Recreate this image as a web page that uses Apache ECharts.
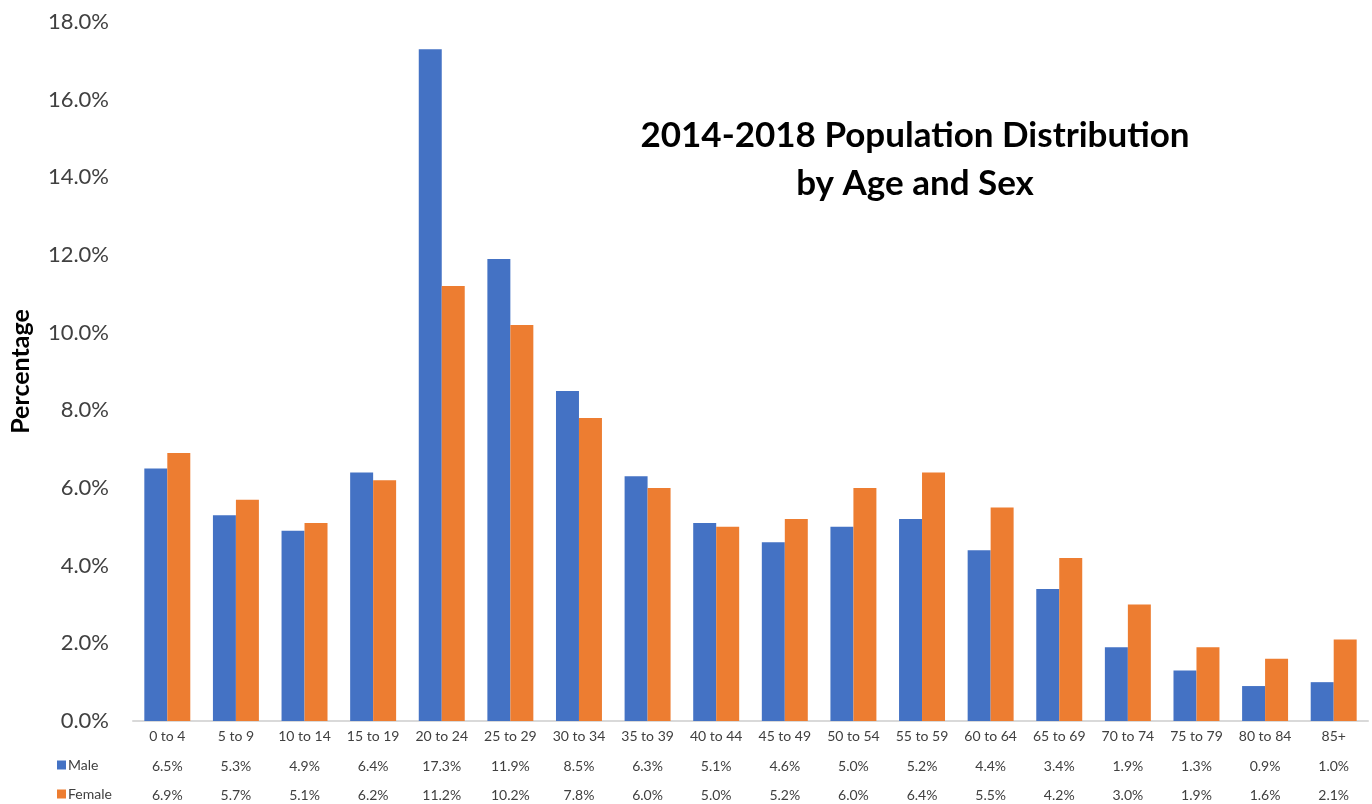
<!DOCTYPE html>
<html>
<head>
<meta charset="utf-8">
<script src="https://cdn.jsdelivr.net/npm/echarts@6/dist/echarts.min.js"></script>
<style>
  html, body { margin: 0; padding: 0; background: #fff; }
  #chart { width: 1372px; height: 804px; }
</style>
</head>
<body>
<div id="chart"></div>
<script>
var ageGroups = ["0 to 4", "5 to 9", "10 to 14", "15 to 19", "20 to 24", "25 to 29",
  "30 to 34", "35 to 39", "40 to 44", "45 to 49", "50 to 54", "55 to 59",
  "60 to 64", "65 to 69", "70 to 74", "75 to 79", "80 to 84", "85+"];
var male = [6.5, 5.3, 4.9, 6.4, 17.3, 11.9, 8.5, 6.3, 5.1, 4.6, 5.0, 5.2, 4.4, 3.4, 1.9, 1.3, 0.9, 1.0];
var female = [6.9, 5.7, 5.1, 6.2, 11.2, 10.2, 7.8, 6.0, 5.0, 5.2, 6.0, 6.4, 5.5, 4.2, 3.0, 1.9, 1.6, 2.1];

var font = "Lato";
var textColor = "#404040";

function tableAxis(values, offset) {
  return {
    type: "category",
    data: ageGroups,
    position: "bottom",
    offset: offset,
    axisLine: { show: false },
    axisTick: { show: false },
    axisLabel: {
      interval: 0,
      margin: 8,
      fontFamily: font,
      fontSize: 14,
      color: textColor,
      formatter: function (v, i) {
        return values[i].toFixed(1) + "%";
      }
    }
  };
}

function tableLegend(name, top) {
  return {
    orient: "horizontal",
    left: 57,
    top: top,
    padding: 0,
    itemWidth: 9,
    itemHeight: 9,
    icon: "rect",
    textStyle: { fontFamily: font, fontSize: 14, color: textColor, padding: [0, 0, 0, -3] },
    data: [name]
  };
}

var chart = echarts.init(document.getElementById("chart"));
chart.setOption({
  animation: false,
  title: {
    text: "2014-2018 Population Distribution\nby Age and Sex",
    left: 910,
    top: 107,
    textAlign: "center",
    textStyle: {
      fontFamily: font,
      fontSize: 35,
      fontWeight: "bold",
      color: "#000",
      lineHeight: 48
    }
  },
  legend: [tableLegend("Male", 758), tableLegend("Female", 787)],
  grid: { left: 128, right: 4, top: 22, bottom: 83, containLabel: false },
  xAxis: [
    {
      type: "category",
      data: ageGroups,
      axisLine: { lineStyle: { color: "#d9d9d9", width: 2 } },
      axisTick: { show: false },
      axisLabel: { interval: 0, margin: 8, fontFamily: font, fontSize: 14, color: textColor }
    },
    tableAxis(male, 30),
    tableAxis(female, 59)
  ],
  yAxis: {
    type: "value",
    min: 0,
    max: 18,
    interval: 2,
    name: "Percentage",
    nameLocation: "middle",
    nameGap: 100,
    nameTextStyle: { fontFamily: font, fontSize: 25, fontWeight: "bold", color: "#000" },
    splitLine: { show: false },
    axisLine: { show: false },
    axisTick: { show: false },
    axisLabel: {
      margin: 24,
      fontFamily: font,
      fontSize: 22,
      color: textColor,
      formatter: function (v) { return v.toFixed(1) + "%"; }
    }
  },
  series: [
    {
      name: "Male",
      type: "bar",
      data: male,
      barGap: "0%",
      barCategoryGap: "33%",
      itemStyle: { color: "#4472c4" }
    },
    {
      name: "Female",
      type: "bar",
      data: female,
      itemStyle: { color: "#ed7d31" }
    }
  ]
});
</script>
</body>
</html>
